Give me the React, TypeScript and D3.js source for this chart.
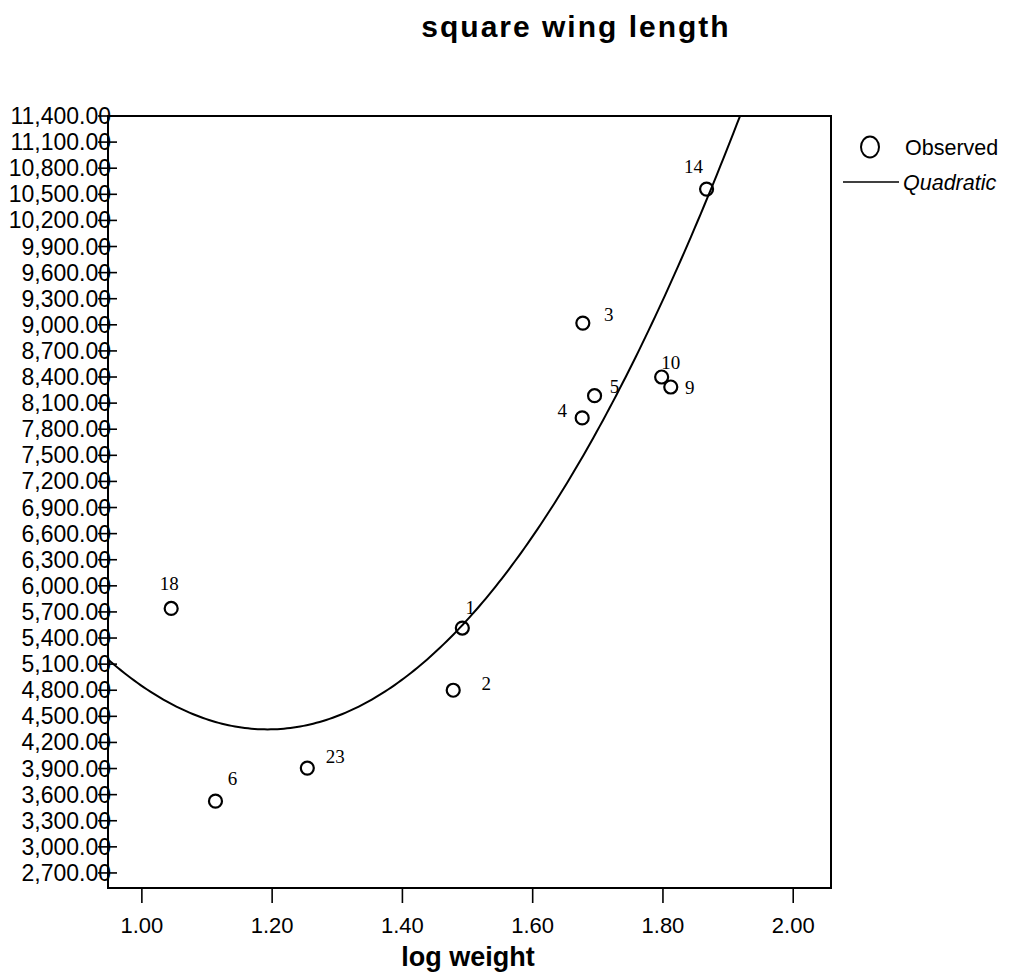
import React from "react";
import * as d3 from "d3";

// Observed cases: case id, log weight, square wing length
const caseIds = ["18", "6", "23", "2", "1", "4", "5", "3", "10", "9", "14"];
const logWeight = [1.045, 1.113, 1.254, 1.478, 1.492, 1.676, 1.695, 1.677, 1.798, 1.812, 1.867];
const squareWing = [5740, 3525, 3905, 4800, 5515, 7930, 8185, 9020, 8400, 8285, 10560];

// Quadratic fit: y = b0 + b1*x + b2*x^2
const quadCoef = [23421, -31972, 13400];

// Axis ticks
const yTicks = d3.range(2700, 11401, 300);
const xTicks = [1.0, 1.2, 1.4, 1.6, 1.8, 2.0];

// Case label placement (offset from the marker, in px)
const labelOffsets: Record<string, [number, number]> = {
  "18": [-2, -25],
  "6": [17, -23],
  "23": [28, -12],
  "2": [33, -7],
  "1": [8, -21],
  "4": [-20, -8],
  "5": [20, -9],
  "3": [26, -9],
  "10": [9, -15],
  "9": [19, 0],
  "14": [-13, -23],
};

const W = 1011;
const H = 980;
const plot = { left: 108, right: 831, top: 116, bottom: 888 };

export default function App() {
  const x = d3.scaleLinear().domain([0.948, 2.058]).range([plot.left, plot.right]);
  const y = d3.scaleLinear().domain([2527, 11400]).range([plot.bottom, plot.top]);

  const fit = (v: number) => quadCoef[0] + quadCoef[1] * v + quadCoef[2] * v * v;
  const [x0, x1] = x.domain();
  const curveXs = d3.range(x0, x1 + 0.0001, 0.005);
  const line = d3
    .line<number>()
    .x((d) => x(d))
    .y((d) => y(fit(d)))
    .curve(d3.curveLinear);

  const sans = "'Liberation Sans', Arial, sans-serif";
  const serif = "'Liberation Serif', 'Times New Roman', serif";

  return (
    <svg width={W} height={H} style={{ position: "absolute", left: 0, top: 0, background: "#fff" }}>
      <rect x={0} y={0} width={W} height={H} fill="#fff" />
      <defs>
        <clipPath id="plotClip">
          <rect x={plot.left} y={plot.top} width={plot.right - plot.left} height={plot.bottom - plot.top} />
        </clipPath>
      </defs>

      {/* Title */}
      <text
        x={576}
        y={37}
        textAnchor="middle"
        fontFamily={sans}
        fontWeight="bold"
        fontSize={30}
        letterSpacing={2}
        fill="#000"
      >
        square wing length
      </text>

      {/* Plot frame */}
      <rect
        x={plot.left}
        y={plot.top}
        width={plot.right - plot.left}
        height={plot.bottom - plot.top}
        fill="none"
        stroke="#000"
        strokeWidth={2}
      />

      {/* Y axis ticks and labels */}
      {yTicks.map((t) => (
        <g key={t}>
          <line x1={plot.left - 10} x2={plot.left + 9} y1={y(t)} y2={y(t)} stroke="#000" strokeWidth={1.6} />
          <text
            x={plot.left + 3}
            y={y(t)}
            dy="0.35em"
            textAnchor="end"
            fontFamily={sans}
            fontSize={23}
            fill="#000"
          >
            {d3.format(",.2f")(t)}
          </text>
        </g>
      ))}

      {/* X axis ticks and labels */}
      {xTicks.map((t) => (
        <g key={t}>
          <line x1={x(t)} x2={x(t)} y1={plot.bottom} y2={plot.bottom + 15} stroke="#000" strokeWidth={1.6} />
          <text x={x(t)} y={plot.bottom + 37} dy="0.35em" textAnchor="middle" fontFamily={sans} fontSize={22} fill="#000">
            {t.toFixed(2)}
          </text>
        </g>
      ))}

      {/* X axis title */}
      <text x={468} y={966} textAnchor="middle" fontFamily={sans} fontWeight="bold" fontSize={27} fill="#000">
        log weight
      </text>

      {/* Quadratic fit */}
      <g clipPath="url(#plotClip)">
        <path d={line(curveXs) || ""} fill="none" stroke="#000" strokeWidth={2} />
      </g>

      {/* Observed points with case labels */}
      {caseIds.map((id, i) => {
        const cx = x(logWeight[i]);
        const cy = y(squareWing[i]);
        const [dx, dy] = labelOffsets[id];
        return (
          <g key={id}>
            <circle cx={cx} cy={cy} r={6.5} fill="none" stroke="#000" strokeWidth={2.2} />
            <text x={cx + dx} y={cy + dy} dy="0.35em" textAnchor="middle" fontFamily={serif} fontSize={19} fill="#000">
              {id}
            </text>
          </g>
        );
      })}

      {/* Legend */}
      <ellipse cx={870} cy={147} rx={9} ry={10.5} fill="none" stroke="#000" strokeWidth={2} />
      <text x={905} y={147} dy="0.35em" fontFamily={sans} fontSize={21.5} fill="#000">
        Observed
      </text>
      <line x1={843} x2={899} y1={182} y2={182} stroke="#000" strokeWidth={1.6} />
      <text x={903} y={182} dy="0.35em" fontFamily={sans} fontStyle="italic" fontSize={21.5} fill="#000">
        Quadratic
      </text>
    </svg>
  );
}
